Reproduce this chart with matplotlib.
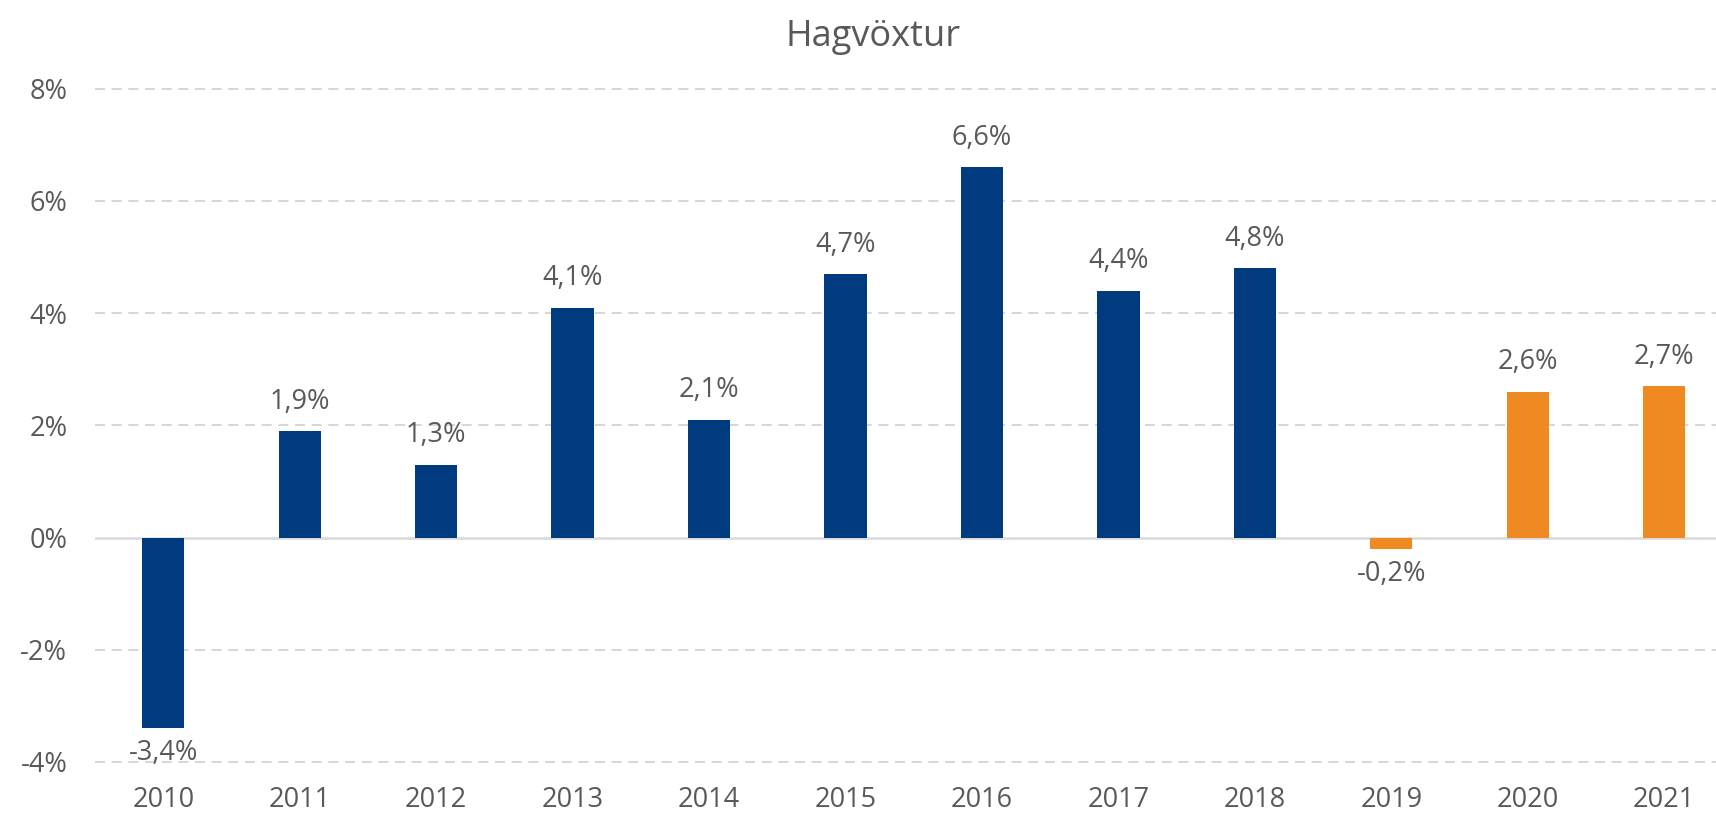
import matplotlib.pyplot as plt
import numpy as np

plt.rcParams['font.family'] = ['Open Sans', 'DejaVu Sans']

# Gögn
years = ['2010', '2011', '2012', '2013', '2014', '2015', '2016', '2017', '2018', '2019', '2020', '2021']
growth = [-3.4, 1.9, 1.3, 4.1, 2.1, 4.7, 6.6, 4.4, 4.8, -0.2, 2.6, 2.7]
forecast = [False] * 9 + [True] * 3

blue = '#003B7F'
orange = '#EF8A22'
grey = '#595959'

fig = plt.figure(figsize=(17.16, 8.14), dpi=100)
ax = fig.add_axes([0.0554, 0.064, 0.9446, 0.827])

x = np.arange(len(years))
colors = [orange if f else blue for f in forecast]
ax.bar(x, growth, width=0.31, color=colors, zorder=3)

for xi, v in zip(x, growth):
    lbl = f'{v:.1f}%'.replace('.', ',')
    if v >= 0:
        ax.annotate(lbl, (xi, v), xytext=(0, 11), textcoords='offset points',
                    ha='center', va='bottom', fontsize=19.5, color=grey)
    else:
        ax.annotate(lbl, (xi, v), xytext=(0, -8), textcoords='offset points',
                    ha='center', va='top', fontsize=19.5, color=grey)

ax.set_xlim(-0.5, 11.38)
ax.set_ylim(-4, 8)
ax.set_yticks([-4, -2, 0, 2, 4, 6, 8])
ax.set_yticklabels([f'{t}%' for t in [-4, -2, 0, 2, 4, 6, 8]])
ax.set_xticks(x)
ax.set_xticklabels(years)
ax.tick_params(length=0, labelsize=19.5, labelcolor=grey)
ax.tick_params(axis='x', pad=17)
ax.tick_params(axis='y', pad=20)

for t in [-4, -2, 2, 4, 6, 8]:
    ax.axhline(t, color='#D0D0D0', lw=1.2, ls=(0, (6, 4)), zorder=1, clip_on=False)
ax.axhline(0, color='#D9D9D9', lw=1.8, zorder=2)

for s in ax.spines.values():
    s.set_visible(False)

fig.text(0.509, 0.955, 'Hagvöxtur', ha='center', va='center', fontsize=26, color=grey)

fig.savefig('out.png', dpi=100)
